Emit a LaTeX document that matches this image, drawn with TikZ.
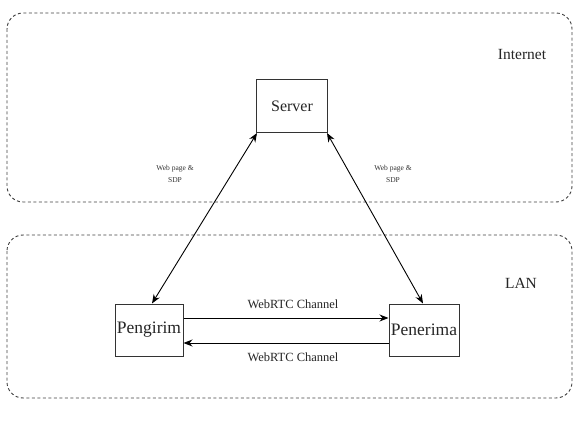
\documentclass[tikz,border=0pt]{standalone}
\usepackage{fontspec}
\setmainfont{Liberation Serif}
\newfontfamily\tms{Liberation Serif}
\usetikzlibrary{arrows.meta}
\begin{document}
\begin{tikzpicture}[x=1pt,y=-1pt,
  every node/.style={font=\tms},
  zone/.style={draw=black!75,line width=0.9pt,rounded corners=16pt,dash pattern=on 3pt off 2.5pt},
  box/.style={draw=black!80,line width=1pt,fill=white,inner sep=0pt},
  conn/.style={draw=black,line width=0.9pt,-{Stealth[length=9pt,width=7pt]}},
  biconn/.style={draw=black,line width=0.9pt,{Stealth[length=9pt,width=7pt]}-{Stealth[length=9pt,width=7pt]}},
  small/.style={font=\tms\fontsize{7.5}{12}\selectfont,align=center,text=black!80},
  chan/.style={font=\tms\fontsize{12.5}{14}\selectfont,text=black!85}]
\useasboundingbox (0,0) rectangle (574,428);
\draw[zone] (7,13) rectangle (572,202);
\draw[zone] (7,235) rectangle (572,398);
\node[font=\tms\fontsize{15.5}{17}\selectfont,text=black!85] (inet) at (522,55) {Internet};
\node[font=\tms\fontsize{15.5}{17}\selectfont,text=black!85] (lan) at (521,283) {LAN};
\node[box,minimum width=71pt,minimum height=53pt,font=\tms\fontsize{16}{18}\selectfont,text=black!85] (server) at (292,106) {Server};
\node[box,minimum width=68pt,minimum height=52pt,font=\tms\fontsize{17.5}{19}\selectfont,text=black!85] (peng) at (149,330) {Pengirim};
\node[box,minimum width=70pt,minimum height=52pt,font=\tms\fontsize{17.5}{19}\selectfont,text=black!85] (pene) at (424,330) {Penerima};
\coordinate (sl) at ([xshift=1pt]server.south west);
\coordinate (sr) at ([xshift=-1pt]server.south east);
\coordinate (pt) at ([xshift=3pt]peng.north);
\coordinate (nt) at ([xshift=-1pt]pene.north);
\draw[biconn] (sl) -- (pt);
\draw[biconn] (sr) -- (nt);
\node[small] (l1) at (175,174) {Web page \&\\SDP};
\node[small] (l2) at (393,174) {Web page \&\\SDP};
\draw[conn] ([yshift=12pt]peng.east) -- ([yshift=12pt]pene.west);
\draw[conn] ([yshift=-13pt]pene.west) -- ([yshift=-13pt]peng.east);
\node[chan] (c1) at (293,304) {WebRTC Channel};
\node[chan] (c2) at (293,357) {WebRTC Channel};
\end{tikzpicture}
\end{document}
